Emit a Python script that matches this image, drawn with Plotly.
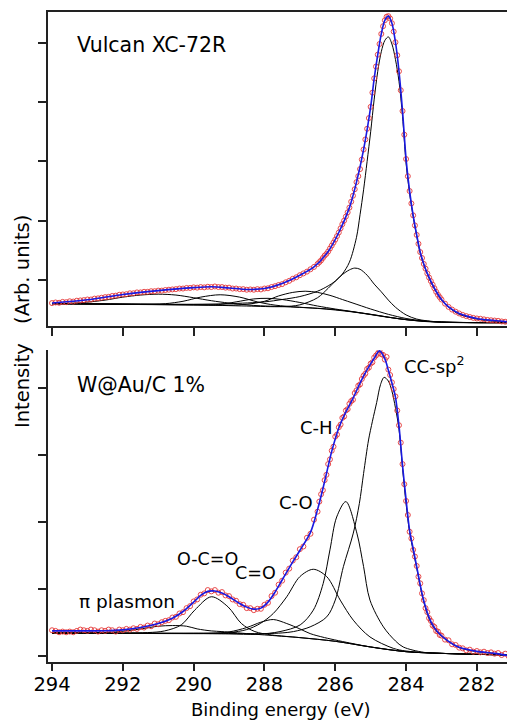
import numpy as np
import plotly.graph_objects as go

# ---------------- data (binding energy grid, eV) ----------------
# measured points: 0.1 eV steps on flanks, 0.05 eV steps across the main peak
BE_DATA = ([round(294.0 - 0.1 * i, 2) for i in range(75)] +
           [round(286.5 - 0.05 * i, 2) for i in range(71)] +
           [round(282.9 - 0.1 * i, 2) for i in range(20)])

# ---- top panel: Vulcan XC-72R ----
TOP_DATA = [
    -0.39, -0.38, -0.385, -0.37, -0.375, -0.36, -0.365, -0.35, -0.345, -0.34,
    -0.33, -0.33, -0.315, -0.31, -0.30, -0.29, -0.285, -0.27, -0.265, -0.25,
    -0.245, -0.24, -0.225, -0.225, -0.21, -0.21, -0.20, -0.20, -0.19, -0.19,
    -0.18, -0.18, -0.17, -0.165, -0.16, -0.155, -0.145, -0.145, -0.135, -0.135,
    -0.125, -0.13, -0.12, -0.125, -0.115, -0.12, -0.11, -0.12, -0.12, -0.13,
    -0.13, -0.145, -0.145, -0.155, -0.155, -0.165, -0.16, -0.165, -0.155, -0.16,
    -0.145, -0.14, -0.12, -0.105, -0.085, -0.07, -0.04, -0.015, 0.02, 0.045,
    0.08, 0.11, 0.14, 0.18, 0.22,
    0.27, 0.30, 0.33, 0.37, 0.41, 0.44, 0.48, 0.53, 0.58, 0.63, 0.68,
    0.74, 0.80, 0.87, 0.94, 1.00, 1.07, 1.14, 1.22, 1.32, 1.42,
    1.53, 1.65, 1.75, 1.87, 2.03, 2.20, 2.37, 2.55, 2.73, 2.92,
    3.16, 3.40, 3.60, 3.80, 3.98, 4.15, 4.28, 4.38, 4.44, 4.45,
    4.41, 4.33, 4.19, 4.01, 3.79, 3.52, 3.20, 2.85, 2.45, 2.04,
    1.75, 1.50, 1.29, 1.09, 0.92, 0.76, 0.61, 0.47, 0.37, 0.27,
    0.19, 0.11, 0.04, -0.02, -0.08, -0.14, -0.20, -0.25, -0.29, -0.33,
    -0.40, -0.455, -0.50, -0.535, -0.565, -0.59, -0.61, -0.625, -0.64, -0.65,
    -0.655, -0.665, -0.675, -0.68, -0.685, -0.69, -0.70, -0.705, -0.71, -0.715,
]
TOP_FIT_BE = [294.0, 293.0, 292.0, 291.0, 290.0, 289.5, 289.0, 288.5, 288.0, 287.5,
              287.0, 286.6, 286.2, 285.9, 285.6, 285.4, 285.2, 285.0, 284.9, 284.8,
              284.7, 284.6, 284.5, 284.4, 284.3, 284.2, 284.1, 284.0, 283.9, 283.8,
              283.7, 283.6, 283.5, 283.4, 283.2, 283.0, 282.8, 282.5, 282.0, 281.5, 281.0]
TOP_FIT = [-0.39, -0.335, -0.245, -0.18, -0.13, -0.115, -0.135, -0.16, -0.145, -0.06,
           0.08, 0.22, 0.48, 0.80, 1.22, 1.65, 2.20, 2.92, 3.40, 3.80,
           4.15, 4.38, 4.45, 4.33, 4.01, 3.52, 2.85, 2.04, 1.50, 1.09,
           0.76, 0.47, 0.27, 0.11, -0.14, -0.33, -0.455, -0.565, -0.65, -0.685, -0.715]

TOP_SP2_BE = [294.0, 292.0, 290.0, 289.0, 288.0, 287.5, 287.0, 286.5, 286.2, 286.0,
              285.8, 285.6, 285.4, 285.3, 285.2, 285.1, 285.0, 284.9, 284.8, 284.7,
              284.6, 284.5, 284.4, 284.3, 284.2, 284.1, 284.0, 283.9, 283.8, 283.7,
              283.6, 283.5, 283.4, 283.3, 283.2, 283.0, 282.8, 282.5, 282.0, 281.5, 281.0]
TOP_SP2 = [-0.40, -0.405, -0.41, -0.40, -0.37, -0.33, -0.28, -0.19, -0.10, -0.02,
           0.10, 0.30, 0.72, 1.10, 1.52, 2.00, 2.50, 3.05, 3.52, 3.85,
           4.04, 4.10, 3.98, 3.72, 3.35, 2.76, 1.97, 1.46, 1.07, 0.74,
           0.45, 0.26, 0.10, -0.04, -0.15, -0.34, -0.46, -0.58, -0.66, -0.70, -0.715]
TOP_CH_BE = [294.0, 290.0, 288.5, 287.5, 287.0, 286.5, 286.2, 286.0, 285.8, 285.6,
             285.45, 285.3, 285.1, 284.9, 284.7, 284.5, 284.3, 284.0, 283.7, 283.4,
             283.0, 282.0, 281.0]
TOP_CH = [-0.40, -0.42, -0.44, -0.45, -0.42, -0.30, -0.14, -0.02, 0.09, 0.17,
          0.20, 0.18, 0.08, -0.07, -0.20, -0.34, -0.46, -0.59, -0.66, -0.69,
          -0.71, -0.72, -0.72]
TOP_CO_BE = [294.0, 290.0, 289.0, 288.5, 288.0, 287.6, 287.2, 286.85, 286.5, 286.15,
             285.8, 285.5, 285.0, 284.5, 284.0, 283.5, 283.0, 282.0, 281.0]
TOP_CO = [-0.40, -0.42, -0.425, -0.41, -0.36, -0.27, -0.21, -0.19, -0.21, -0.26,
          -0.33, -0.39, -0.49, -0.58, -0.65, -0.69, -0.71, -0.72, -0.72]
TOP_C_O_BE = [294.0, 290.0, 289.3, 288.8, 288.3, 287.9, 287.5, 287.0, 286.5, 286.0,
              285.5, 285.0, 284.0, 283.0, 281.0]
TOP_C_O = [-0.40, -0.42, -0.415, -0.37, -0.32, -0.31, -0.33, -0.38, -0.44, -0.49,
           -0.535, -0.58, -0.67, -0.71, -0.72]
TOP_OCO_BE = [294.0, 291.5, 290.8, 290.3, 289.8, 289.25, 288.7, 288.2, 287.7, 287.0,
              286.0, 285.0, 284.0, 283.0, 281.0]
TOP_OCO = [-0.40, -0.41, -0.40, -0.36, -0.29, -0.25, -0.29, -0.37, -0.425, -0.46,
           -0.50, -0.58, -0.67, -0.71, -0.72]
TOP_PI_BE = [294.0, 293.2, 292.5, 292.0, 291.5, 291.0, 290.5, 290.0, 289.5, 289.0,
             288.3, 287.5, 286.5, 285.5, 284.5, 283.5, 282.5, 281.0]
TOP_PI = [-0.40, -0.385, -0.34, -0.29, -0.255, -0.24, -0.255, -0.30, -0.35, -0.39,
          -0.43, -0.45, -0.48, -0.54, -0.63, -0.70, -0.72, -0.72]

# ---- bottom panel: W@Au/C 1% ----
BOT_DATA = [
    0.38, 0.37, 0.35, 0.36, 0.35, 0.36, 0.35, 0.37, 0.39, 0.38,
    0.37, 0.39, 0.38, 0.36, 0.38, 0.37, 0.39, 0.38, 0.36, 0.39,
    0.38, 0.40, 0.39, 0.41, 0.40, 0.43, 0.42, 0.45, 0.44, 0.48,
    0.47, 0.50, 0.52, 0.53, 0.57, 0.58, 0.63, 0.65, 0.71, 0.74,
    0.81, 0.84, 0.91, 0.93, 0.98, 0.96, 0.98, 0.94, 0.95, 0.90,
    0.89, 0.84, 0.82, 0.77, 0.76, 0.71, 0.71, 0.68, 0.70, 0.70,
    0.76, 0.79, 0.89, 0.94, 1.06, 1.12, 1.24, 1.30, 1.42, 1.47,
    1.59, 1.63, 1.76, 1.82, 2.03,
    2.15, 2.30, 2.41, 2.47, 2.62, 2.70, 2.86, 2.93, 3.06, 3.12, 3.27,
    3.30, 3.41, 3.45, 3.55, 3.57, 3.66, 3.68, 3.76, 3.80, 3.82,
    3.92, 3.96, 4.03, 4.05, 4.13, 4.18, 4.21, 4.28, 4.30, 4.36,
    4.38, 4.45, 4.48, 4.51, 4.56, 4.50, 4.49, 4.42, 4.46, 4.27,
    4.19, 4.08, 3.98, 3.87, 3.66, 3.44, 3.18, 2.86, 2.56, 2.31,
    2.10, 1.85, 1.75, 1.58, 1.48, 1.34, 1.18, 1.08, 0.93, 0.83,
    0.71, 0.65, 0.56, 0.52, 0.45, 0.43, 0.37, 0.36, 0.31, 0.30,
    0.24, 0.23, 0.17, 0.16, 0.12, 0.11, 0.08, 0.09, 0.06, 0.07,
    0.05, 0.06, 0.04, 0.05, 0.03, 0.04, 0.01, 0.03, -0.01, -0.02,
]
BOT_FIT_BE = [294.0, 293.0, 292.5, 292.0, 291.5, 291.0, 290.6, 290.3, 290.0, 289.8,
              289.6, 289.4, 289.2, 289.0, 288.7, 288.5, 288.3, 288.1, 287.9, 287.7,
              287.5, 287.2, 287.0, 286.7, 286.5, 286.3, 286.1, 285.9, 285.7, 285.5,
              285.3, 285.1, 284.9, 284.75, 284.6, 284.5, 284.4, 284.3, 284.2, 284.1,
              284.0, 283.9, 283.8, 283.7, 283.5, 283.3, 283.1, 282.8, 282.5, 282.0,
              281.5, 281.0]
BOT_FIT = [0.37, 0.37, 0.373, 0.386, 0.42, 0.48, 0.56, 0.66, 0.80, 0.90,
           0.96, 0.965, 0.935, 0.88, 0.78, 0.725, 0.695, 0.71, 0.80, 0.95,
           1.13, 1.40, 1.57, 1.84, 2.18, 2.60, 3.05, 3.40, 3.64, 3.84,
           4.07, 4.27, 4.44, 4.55, 4.43, 4.26, 4.07, 3.86, 3.43, 2.84,
           2.33, 1.87, 1.60, 1.33, 0.82, 0.51, 0.35, 0.215, 0.125, 0.065,
           0.035, -0.01]

BOT_SP2_BE = [294.0, 290.0, 288.0, 287.5, 287.18, 286.71, 286.24, 286.0, 285.77, 285.49,
              285.32, 285.2, 285.06, 284.95, 284.83, 284.72, 284.62, 284.5, 284.4, 284.3,
              284.2, 284.1, 284.0, 283.9, 283.8, 283.7, 283.5, 283.3, 283.1, 282.8,
              282.5, 282.0, 281.5, 281.0]
BOT_SP2 = [0.335, 0.335, 0.33, 0.34, 0.36, 0.43, 0.58, 0.83, 1.33, 1.83,
           2.27, 2.72, 3.22, 3.50, 3.78, 4.05, 4.155, 4.10, 3.95, 3.70,
           3.38, 2.80, 2.27, 1.84, 1.57, 1.31, 0.80, 0.49, 0.34, 0.21,
           0.12, 0.06, 0.03, -0.01]
BOT_CH_BE = [294.0, 290.0, 289.0, 288.2, 287.56, 286.99, 286.62, 286.34, 286.15, 285.96,
             285.7, 285.39, 285.2, 285.02, 284.64, 284.3, 284.08, 283.5, 283.0, 282.0, 281.0]
BOT_CH = [0.34, 0.33, 0.325, 0.32, 0.36, 0.46, 0.68, 1.08, 1.58, 2.07,
          2.30, 1.83, 1.33, 0.83, 0.43, 0.22, 0.13, 0.05, 0.035, 0.02, 0.01]
BOT_CO_BE = [294.0, 290.0, 289.0, 288.5, 288.12, 287.75, 287.37, 287.0, 286.62, 286.24,
             285.86, 285.49, 285.02, 284.36, 284.0, 283.0, 281.0]
BOT_CO = [0.34, 0.335, 0.345, 0.39, 0.48, 0.63, 0.88, 1.18, 1.29, 1.18,
          0.83, 0.53, 0.28, 0.11, 0.07, 0.035, 0.01]
BOT_C_O_BE = [294.0, 290.0, 289.5, 289.0, 288.5, 288.1, 287.75, 287.37, 287.0, 286.71,
              286.3, 285.5, 285.0, 284.0, 283.0, 281.0]
BOT_C_O = [0.34, 0.33, 0.335, 0.355, 0.42, 0.50, 0.54, 0.48, 0.40, 0.33,
           0.27, 0.18, 0.13, 0.06, 0.035, 0.01]
BOT_OCO_BE = [294.0, 291.3, 290.82, 290.35, 289.97, 289.5, 289.03, 288.65, 288.27, 287.8,
              287.0, 286.0, 285.0, 284.0, 283.0, 281.0]
BOT_OCO = [0.34, 0.345, 0.37, 0.46, 0.68, 0.88, 0.73, 0.48, 0.36, 0.31,
           0.27, 0.215, 0.13, 0.06, 0.035, 0.01]
BOT_PI_BE = [294.0, 293.0, 292.2, 291.5, 291.0, 290.6, 290.2, 289.9, 289.5, 289.2,
             288.5, 288.0, 287.0, 286.0, 285.0, 284.0, 283.0, 281.0]
BOT_PI = [0.34, 0.345, 0.355, 0.40, 0.44, 0.45, 0.44, 0.40, 0.37, 0.36,
          0.33, 0.31, 0.27, 0.215, 0.13, 0.06, 0.035, 0.01]

X_TICKS = [294, 292, 290, 288, 286, 284, 282]
X_TICK_TEXT = ["294", "292", "290", "288", "286", "284", "282"]
Y_TICKS = [0, 1, 2, 3, 4]

assert len(BE_DATA) == len(TOP_DATA) == len(BOT_DATA)

# ---------------- figure ----------------
FONT = "DejaVu Sans, Verdana, sans-serif"
DATA_COLOR = "rgba(228,55,55,0.9)"
FIT_COLOR = "rgb(25,25,225)"

fig = go.Figure()

def add_panel(comps, data, fit_be, fit, xref, yref):
    for be, vals in comps:
        fig.add_trace(go.Scatter(x=be, y=vals, mode="lines", xaxis=xref, yaxis=yref,
                                 line=dict(color="black", width=1, shape="spline", smoothing=0.9),
                                 hoverinfo="skip", showlegend=False))
    fig.add_trace(go.Scatter(x=BE_DATA, y=data, mode="markers", xaxis=xref, yaxis=yref,
                             marker=dict(symbol="circle-open", size=5, color=DATA_COLOR,
                                         line=dict(width=1, color=DATA_COLOR)),
                             showlegend=False))
    fig.add_trace(go.Scatter(x=fit_be, y=fit, mode="lines", xaxis=xref, yaxis=yref,
                             line=dict(color=FIT_COLOR, width=1.6, shape="spline", smoothing=0.9),
                             showlegend=False))

add_panel([(TOP_PI_BE, TOP_PI), (TOP_OCO_BE, TOP_OCO), (TOP_C_O_BE, TOP_C_O),
           (TOP_CO_BE, TOP_CO), (TOP_CH_BE, TOP_CH), (TOP_SP2_BE, TOP_SP2)],
          TOP_DATA, TOP_FIT_BE, TOP_FIT, "x2", "y2")
add_panel([(BOT_PI_BE, BOT_PI), (BOT_OCO_BE, BOT_OCO), (BOT_C_O_BE, BOT_C_O),
           (BOT_CO_BE, BOT_CO), (BOT_CH_BE, BOT_CH), (BOT_SP2_BE, BOT_SP2)],
          BOT_DATA, BOT_FIT_BE, BOT_FIT, "x", "y")

axis_common = dict(showgrid=False, zeroline=False, showline=True, linecolor="#222",
                   linewidth=1.5, ticks="outside", tickcolor="#222", tickwidth=1.5)

# the page body keeps an 8 px default margin, so the figure is 8 px smaller each way
fig.update_layout(
    width=507, height=714,
    margin=dict(l=40, r=2, t=4, b=60),
    paper_bgcolor="white", plot_bgcolor="white",
    font=dict(family=FONT, color="black"),
    showlegend=False,
    xaxis=dict(domain=[0, 1], range=[294.113, 280.98], anchor="y",
               tickvals=X_TICKS, ticktext=X_TICK_TEXT, ticklen=7, ticklabelstandoff=-3,
               tickfont=dict(size=19.5, family=FONT), **axis_common),
    xaxis2=dict(domain=[0, 1], range=[294.113, 280.98], anchor="y2",
                tickvals=X_TICKS, showticklabels=False, ticklen=8, mirror=True,
                **axis_common),
    yaxis=dict(domain=[0, 0.48], range=[-0.094, 4.563], anchor="x",
               tickvals=Y_TICKS, showticklabels=False, ticklen=8, **axis_common),
    yaxis2=dict(domain=[0.517, 1], range=[-0.776, 4.52], anchor="x2",
                tickvals=Y_TICKS, showticklabels=False, ticklen=8, **axis_common),
)

# faint right-hand frame edges
for y0, y1 in [(0.517, 1.0), (0.0, 0.48)]:
    fig.add_shape(type="line", xref="paper", yref="paper", x0=1.002, x1=1.002,
                  y0=y0, y1=y1, line=dict(color="#d8d8d8", width=1))

def ann(text, x, y, yref, size, xref="x", **kw):
    fig.add_annotation(text=text, x=x, y=y, xref=xref, yref=yref, showarrow=False,
                       xanchor=kw.pop("xanchor", "left"), yanchor=kw.pop("yanchor", "middle"),
                       font=dict(size=size, family=FONT, color="black"), **kw)

ann("Vulcan XC-72R", 293.35, 3.96, "y2", 20.5, xref="x2")
ann("W@Au/C 1%", 293.35, 4.04, "y", 20.5)
ann("π plasmon", 293.30, 0.816, "y", 18.5)
ann("O-C=O", 290.53, 1.443, "y", 17.5)
ann("C=O", 288.88, 1.23, "y", 17.5)
ann("C-O", 287.64, 2.29, "y", 18)
ann("C-H", 287.05, 3.40, "y", 18)
ann("CC-sp<sup>2</sup>", 284.11, 4.34, "y", 18)

# axis titles
ann("(Arb. units)", -0.056, 0.6046, "paper", 19.5, xref="paper", xanchor="center", textangle=-90)
ann("Intensity", -0.056, 0.426, "paper", 19.5, xref="paper", xanchor="center", textangle=-90)
ann("Binding energy (eV)", 0.502, -0.054, "paper", 18, xref="paper",
    xanchor="center", yanchor="top")

fig.write_html("out.html")
